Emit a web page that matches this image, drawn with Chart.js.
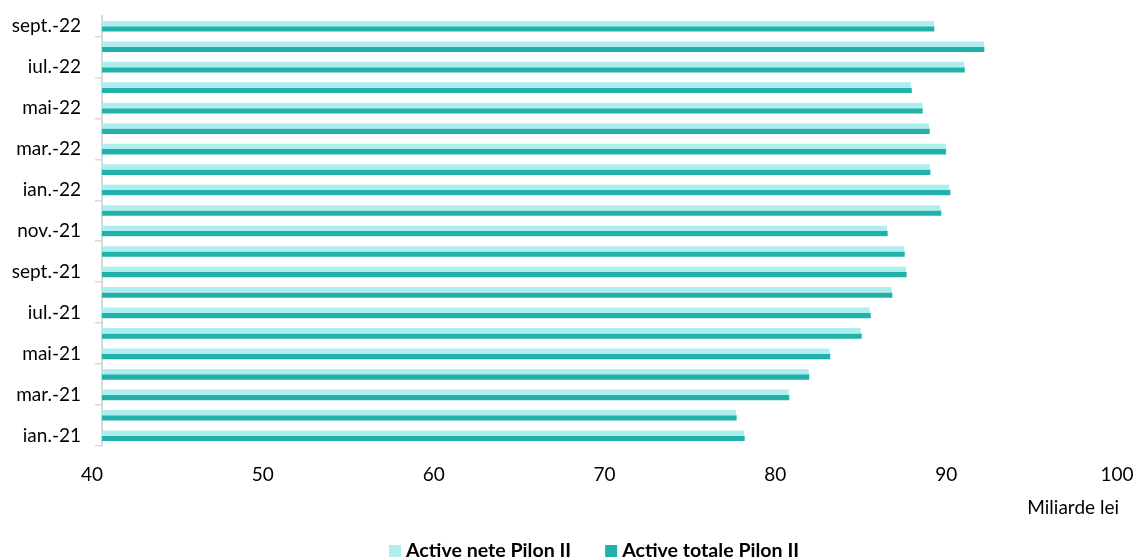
<!DOCTYPE html>
<html>
<head>
<meta charset="utf-8">
<script src="https://cdn.jsdelivr.net/npm/chart.js@4"></script>
<style>
  html, body { margin: 0; padding: 0; background: #fff; }
  #wrap { width: 1135px; height: 558px; }
</style>
</head>
<body>
<div id="wrap"><canvas id="chart" width="1135" height="558"></canvas></div>
<script>
// months, oldest first (drawn bottom to top)
const months = ['ian.-21', 'feb.-21', 'mar.-21', 'apr.-21', 'mai-21', 'iun.-21', 'iul.-21', 'aug.-21',
    'sept.-21', 'oct.-21', 'nov.-21', 'dec.-21', 'ian.-22', 'feb.-22', 'mar.-22', 'apr.-22',
    'mai-22', 'iun.-22', 'iul.-22', 'aug.-22', 'sept.-22'];

// miliarde lei
const activeNete = [77.58, 77.11, 80.20, 81.37, 82.60, 84.41, 84.94, 86.23,
    87.06, 86.93, 85.95, 89.07, 89.60, 88.45, 89.39, 88.41,
    88.04, 87.36, 90.48, 91.63, 88.70];
const activeTotale = [77.62, 77.15, 80.23, 81.40, 82.63, 84.47, 85.00, 86.26,
    87.10, 86.99, 85.99, 89.13, 89.66, 88.49, 89.41, 88.45,
    88.04, 87.40, 90.50, 91.65, 88.72];

const seriesNames = ['Active nete Pilon II', 'Active totale Pilon II'];
const xTicks = [40, 50, 60, 70, 80, 90, 100];
const unitLabel = 'Miliarde lei';

const colors = ['#afeeee', '#20b2aa'];
const fontFamily = "Lato, 'Open Sans', sans-serif";

// legend and unit text drawn by hand to sit where the original has them
const extras = {
    id: 'extras',
    afterDraw(chart) {
        const ctx = chart.ctx;
        ctx.save();
        ctx.fillStyle = '#000';
        ctx.font = "19px " + fontFamily;
        ctx.textAlign = 'right';
        ctx.textBaseline = 'middle';
        ctx.fillText(unitLabel, chart.chartArea.right - 8, 508);

        ctx.font = "bold 19.6px " + fontFamily;
        ctx.textAlign = 'left';
        let x = 389;
        const y = 551;
        chart.data.datasets.forEach((ds) => {
            ctx.fillStyle = ds.backgroundColor;
            ctx.fillRect(x, y - 6, 12, 12);
            ctx.fillStyle = '#000';
            ctx.fillText(ds.label, x + 17, y);
            x += 17 + ctx.measureText(ds.label).width + 34;
        });
        ctx.restore();
    }
};

new Chart('chart', {
    type: 'bar',
    data: {
        labels: months,
        datasets: [
            { label: seriesNames[0], data: activeNete, backgroundColor: colors[0] },
            { label: seriesNames[1], data: activeTotale, backgroundColor: colors[1] }
        ]
    },
    options: {
        indexAxis: 'y',
        responsive: false,
        animation: false,
        layout: { padding: { top: 16, right: 8, left: 0, bottom: 0 } },
        datasets: {
            bar: { categoryPercentage: 0.52, barPercentage: 1.0, borderWidth: 0 }
        },
        plugins: {
            legend: { display: false },
            tooltip: { enabled: false }
        },
        scales: {
            x: {
                min: 40,
                max: 100,
                afterBuildTicks: (scale) => { scale.ticks = xTicks.map((v) => ({ value: v })); },
                afterFit: (scale) => {
                    scale.height = 112;
                    scale.paddingLeft = 0;
                    scale.paddingRight = 0;
                },
                grid: { display: false, drawTicks: false },
                border: { display: false },
                ticks: {
                    padding: 17,
                    labelOffset: -10,
                    color: '#000',
                    font: { family: fontFamily, size: 19 }
                }
            },
            y: {
                reverse: true,
                afterFit: (scale) => {
                    scale.width = 102;
                    scale.paddingTop = 0;
                    scale.paddingBottom = 0;
                },
                grid: {
                    offset: true,
                    drawOnChartArea: false,
                    tickLength: 7,
                    lineWidth: 1.5,
                    color: (c) => (c.index !== undefined && c.index % 2 === 0) ? '#d9d9d9' : 'rgba(0,0,0,0)'
                },
                border: { display: true, color: '#d9d9d9', width: 2 },
                ticks: {
                    autoSkip: false,
                    padding: 14,
                    color: '#000',
                    font: { family: fontFamily, size: 19 },
                    callback: function (value, index) {
                        return index % 2 === 0 ? this.getLabelForValue(value) : '';
                    }
                }
            }
        }
    },
    plugins: [extras]
});
</script>
</body>
</html>
